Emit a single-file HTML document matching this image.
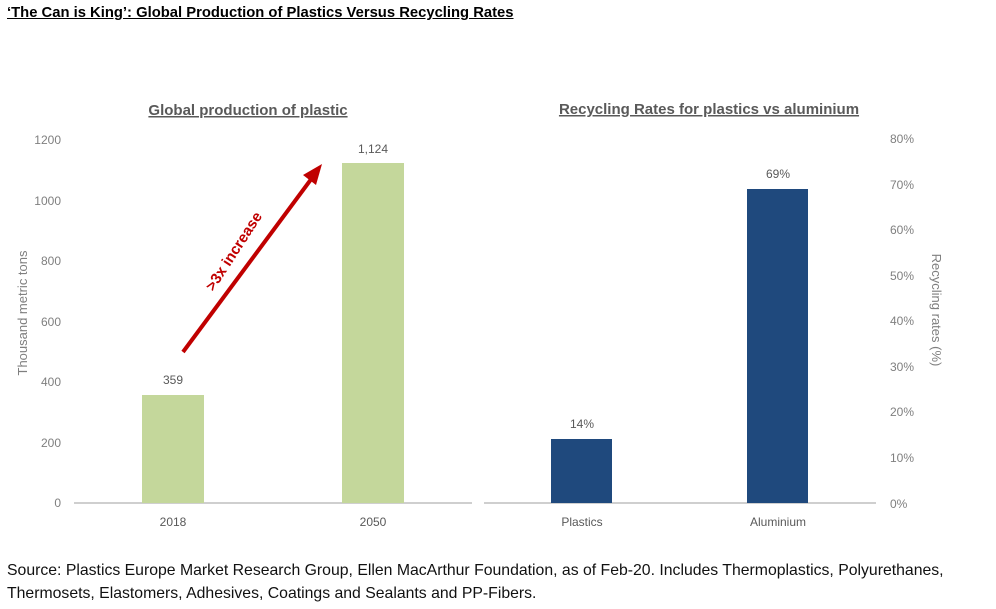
<!DOCTYPE html>
<html><head><style>
body{margin:0;width:996px;height:609px;background:#fff;overflow:hidden;font-family:"Liberation Sans",sans-serif;}
.t{position:absolute;left:7px;top:5px;font-size:14.8px;font-weight:bold;text-decoration:underline;color:#000;}
.s{position:absolute;left:7px;top:559px;font-size:15.8px;line-height:23px;color:#111;}
</style></head><body>
<div class="t">‘The Can is King’: Global Production of Plastics Versus Recycling Rates</div>
<svg width="996" height="609" style="position:absolute;left:0;top:0" font-family="Liberation Sans, sans-serif">
<g fill="#595959" font-size="15" font-weight="bold" text-anchor="middle" text-decoration="underline">
<text x="248" y="115">Global production of plastic</text>
<text x="709" y="114">Recycling Rates for plastics vs aluminium</text>
</g>
<g fill="#7f7f7f" font-size="12" text-anchor="end">
<text x="61" y="144">1200</text><text x="61" y="205">1000</text><text x="61" y="265">800</text>
<text x="61" y="326">600</text><text x="61" y="386">400</text><text x="61" y="447">200</text><text x="61" y="507">0</text>
</g>
<g fill="#7f7f7f" font-size="12" text-anchor="start">
<text x="890" y="143">80%</text><text x="890" y="189">70%</text><text x="890" y="234">60%</text>
<text x="890" y="280">50%</text><text x="890" y="325">40%</text><text x="890" y="371">30%</text>
<text x="890" y="416">20%</text><text x="890" y="462">10%</text><text x="890" y="508">0%</text>
</g>
<text transform="translate(27,313) rotate(-90)" fill="#7f7f7f" font-size="13" text-anchor="middle">Thousand metric tons</text>
<text transform="translate(932,310) rotate(90)" fill="#7f7f7f" font-size="13" text-anchor="middle">Recycling rates (%)</text>
<line x1="74" y1="503" x2="472" y2="503" stroke="#bfbfbf" stroke-width="1.5"/>
<line x1="484" y1="503" x2="876" y2="503" stroke="#bfbfbf" stroke-width="1.5"/>
<rect x="142" y="395" width="62" height="108" fill="#c4d79b"/>
<rect x="342" y="163" width="62" height="340" fill="#c4d79b"/>
<rect x="551" y="439" width="61" height="64" fill="#1f497d"/>
<rect x="747" y="189" width="61" height="314" fill="#1f497d"/>
<g fill="#595959" font-size="12" text-anchor="middle">
<text x="173" y="384">359</text><text x="373" y="153">1,124</text>
<text x="582" y="428">14%</text><text x="778" y="178">69%</text>
<text x="173" y="526">2018</text><text x="373" y="526">2050</text>
<text x="582" y="526">Plastics</text><text x="778" y="526">Aluminium</text>
</g>
<line x1="183" y1="352" x2="312" y2="178" stroke="#c00000" stroke-width="4"/>
<polygon points="322,164 303,175 316,185" fill="#c00000"/>
<text transform="translate(238,254) rotate(-57)" fill="#c00000" font-size="15" font-weight="bold" text-anchor="middle">&gt;3x increase</text>
</svg>
<div class="s">Source: Plastics Europe Market Research Group, Ellen MacArthur Foundation, as of Feb-20. Includes Thermoplastics, Polyurethanes,<br>Thermosets, Elastomers, Adhesives, Coatings and Sealants and PP-Fibers.</div>
</body></html>
